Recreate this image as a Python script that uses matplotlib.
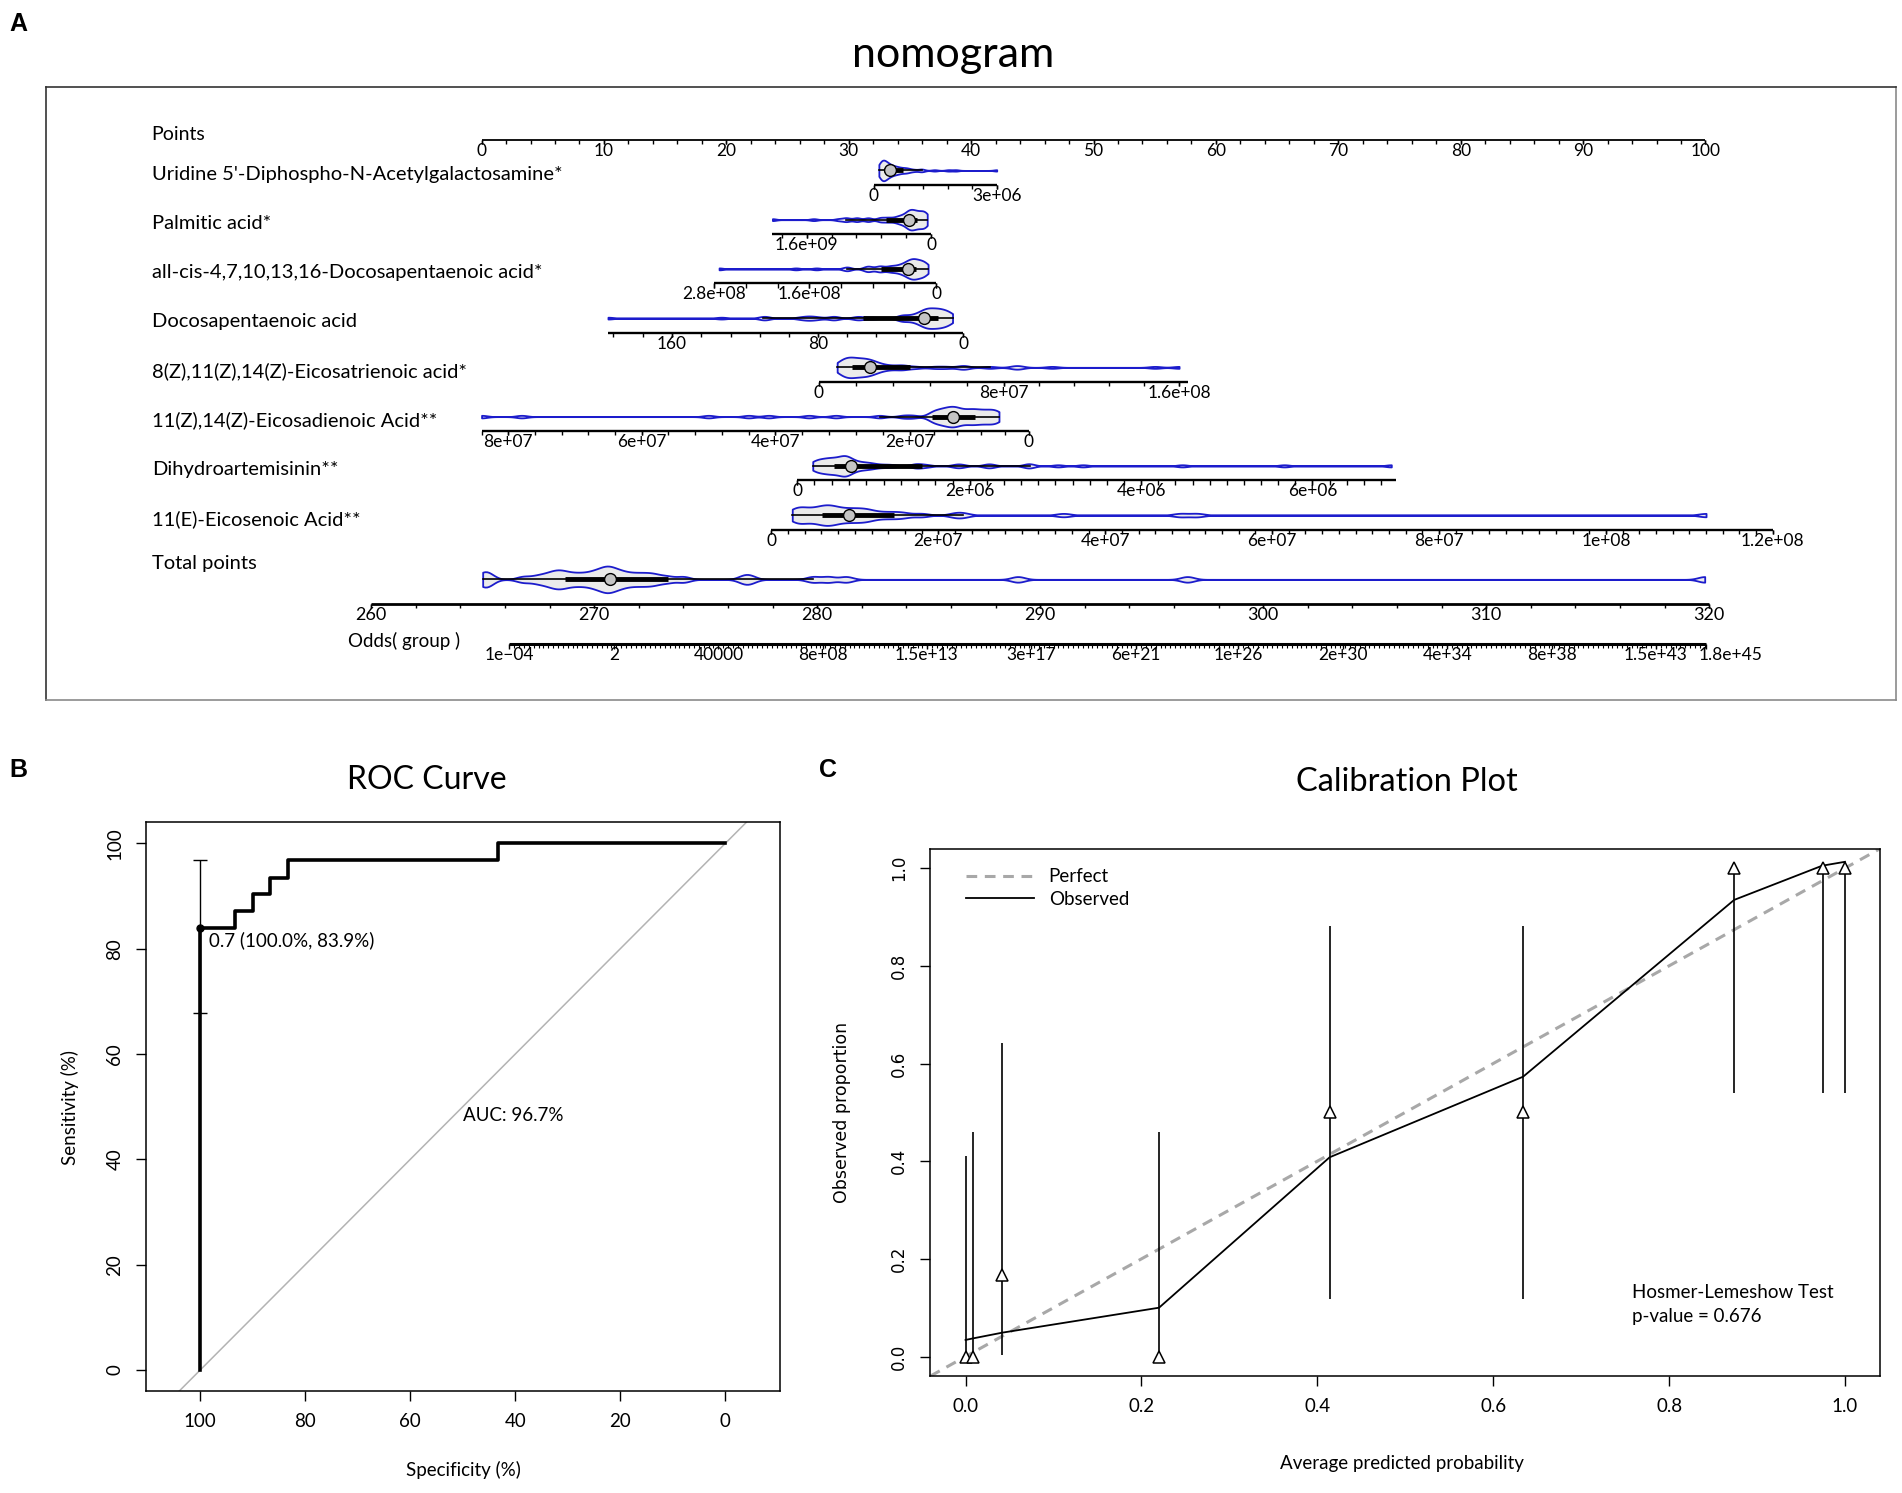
import matplotlib
matplotlib.use('Agg')
import matplotlib.pyplot as plt
import numpy as np

plt.rcParams['font.family'] = ['Lato', 'DejaVu Sans']

W, H = 1568.0, 1231.0   # layout grid of the reference (scaled)

# ---------------- nomogram data ----------------
var_labels = ["Uridine 5'-Diphospho-N-Acetylgalactosamine*", "Palmitic acid*",
              "all-cis-4,7,10,13,16-Docosapentaenoic acid*", "Docosapentaenoic acid",
              "8(Z),11(Z),14(Z)-Eicosatrienoic acid*", "11(Z),14(Z)-Eicosadienoic Acid**",
              "Dihydroartemisinin**", "11(E)-Eicosenoic Acid**"]

# sample values of each metabolite
uridine = np.array([0.12, 0.14, 0.15, 0.16, 0.17, 0.18, 0.19, 0.2, 0.21, 0.22, 0.23, 0.24, 0.25,
                    0.26, 0.27, 0.28, 0.3, 0.31, 0.33, 0.35, 0.36, 0.38, 0.4, 0.42, 0.44, 0.47,
                    0.5, 0.53, 0.55, 0.58, 0.62, 0.66, 0.7, 0.75, 0.8, 0.82, 0.9, 1.0, 1.15,
                    1.18, 1.48, 1.82, 2.0, 3.0]) * 1e6
palmitic = np.array([2.04, 1.51, 1.19, 1.1, 1.08, 0.96, 0.95, 0.82, 0.8, 0.66, 0.65, 0.58, 0.55,
                     0.5, 0.45, 0.42, 0.4, 0.38, 0.35, 0.33, 0.32, 0.3, 0.29, 0.28, 0.27, 0.27,
                     0.26, 0.25, 0.24, 0.22, 0.21, 0.2, 0.19, 0.18, 0.17, 0.15, 0.14, 0.12, 0.11,
                     0.1, 0.09, 0.08, 0.07, 0.06, 0.05]) * 1e9
allcis = np.array([2.74, 1.77, 1.51, 1.13, 1.12, 0.88, 0.86, 0.84, 0.72, 0.71, 0.7, 0.6, 0.58,
                   0.55, 0.5, 0.47, 0.45, 0.42, 0.4, 0.38, 0.36, 0.35, 0.34, 0.33, 0.32, 0.3,
                   0.29, 0.28, 0.27, 0.26, 0.25, 0.24, 0.22, 0.2, 0.19, 0.18, 0.16, 0.15, 0.14,
                   0.12, 0.1]) * 1e8
dpa = np.array([195, 133, 110, 109, 90, 86, 84, 80, 72, 71, 59, 57, 50, 35, 34, 33, 30, 28, 26,
                25, 24, 23, 22, 21, 21, 20, 20, 19, 19, 18, 17, 16, 16, 15, 14, 14, 13, 13, 12,
                11, 10, 9, 9, 8, 7, 6], dtype=float)
eic3 = np.array([0.8, 0.9, 1.0, 1.0, 1.1, 1.2, 1.2, 1.3, 1.3, 1.4, 1.4, 1.5, 1.6, 1.6, 1.7, 1.8,
                 1.8, 1.9, 2.0, 2.0, 2.1, 2.2, 2.2, 2.3, 2.4, 2.5, 2.6, 2.8, 3.0, 3.3, 3.6, 3.7,
                 4.2, 5.0, 5.5, 6.2, 6.3, 7.4, 8.5, 8.7, 10.2, 14.9, 16.0]) * 1e7
eic2 = np.array([8.4, 7.8, 5.0, 4.4, 4.1, 3.5, 3.1, 2.45, 2.1, 1.95,
                 1.66, 1.62, 1.58, 1.54, 1.5, 1.46, 1.43, 1.4, 1.37, 1.34, 1.31, 1.28,
                 1.26, 1.24, 1.21, 1.18, 1.14, 1.1, 1.06, 1.02, 0.98, 0.95, 0.92,
                 0.88, 0.84, 0.8, 0.76, 0.72, 0.68, 0.64, 0.6, 0.56, 0.53, 0.5]) * 1e7
dihydro = np.array([0.18, 0.2, 0.22, 0.25, 0.27, 0.3, 0.32, 0.34, 0.36, 0.38, 0.4, 0.42, 0.44,
                    0.46, 0.48, 0.5, 0.52, 0.54, 0.55, 0.56, 0.57, 0.58, 0.6, 0.62, 0.65, 0.68,
                    0.72, 0.76, 0.8, 0.85, 0.9, 1.0, 1.1, 1.36, 1.4, 1.5, 1.84, 1.9, 2.2, 2.25,
                    2.68, 2.7, 3.03, 3.32, 4.48, 5.67, 6.92]) * 1e6
eic1 = np.array([0.25, 0.28, 0.32, 0.35, 0.4, 0.45, 0.5, 0.55, 0.6, 0.62, 0.65, 0.7, 0.72, 0.75,
                 0.8, 0.85, 0.9, 0.95, 1.0, 1.05, 1.1, 1.15, 1.2, 1.3, 1.4, 1.5, 1.6, 1.8, 2.2,
                 2.3, 3.5, 4.9, 5.1, 11.2]) * 1e7
total_points = np.array([265.0, 265.1, 265.3, 266.8, 267.4, 267.8, 268.1, 268.3, 268.5, 268.7,
                         269.0, 269.3, 269.6, 269.9, 270.1, 270.3, 270.5, 270.6, 270.7, 270.9,
                         271.1, 271.3, 271.6, 271.9, 272.2, 272.5, 272.8, 273.3, 274.0, 276.7,
                         277.0, 279.8, 280.5, 281.3, 289.0, 296.6, 319.8])

# scale anchors: variable value -> points
anchor_vals = [[0, 3e6], [0, 1.6e9], [0, 1.6e8], [0, 80, 160], [0, 8e7, 1.6e8],
               [0, 2e7, 4e7, 6e7, 8e7], [0, 2e6, 4e6, 6e6], [0, 1.2e8]]
anchor_pts = [[32.06, 42.09], [36.73, 26.56], [37.13, 26.78], [39.37, 27.52, 15.56],
              [27.54, 42.67, 56.99], [44.70, 35.00, 24.00, 13.08, 2.18],
              [25.79, 39.89, 53.89, 67.89], [23.68, 105.5]]
axis_range = [(0, 3e6), (0, 2.04e9), (0, 2.8e8), (0, 195), (0, 1.64e8), (0, 8.4e7),
              (0, 6.98e6), (0, 1.2e8)]
minor_step = [0.6e6, 0.32e9, 0.4e8, 16, 1.6e7, 4e6, 0.2e6, 2e6]
tick_vals = [[0, 3e6], [1.6e9, 0], [2.8e8, 1.6e8, 0], [160, 80, 0], [0, 8e7, 1.6e8],
             [8e7, 6e7, 4e7, 2e7, 0], [0, 2e6, 4e6, 6e6],
             [0, 2e7, 4e7, 6e7, 8e7, 1e8, 1.2e8]]
tick_text = [['0', '3e+06'], ['1.6e+09', '0'], ['2.8e+08', '1.6e+08', '0'], ['160', '80', '0'],
             ['0', '8e+07', '1.6e+08'], ['8e+07', '6e+07', '4e+07', '2e+07', '0'],
             ['0', '2e+06', '4e+06', '6e+06'],
             ['0', '2e+07', '4e+07', '6e+07', '8e+07', '1e+08', '1.2e+08']]
samples = [uridine, palmitic, allcis, dpa, eic3, eic2, dihydro, eic1]
kde_bw = [0.25, 0.3, 0.35, 0.45, 0.5, 0.45, 0.45, 0.6]

tp_anchor = [260, 320]
tp_anchor_pts = [-9.02, 100.30]
odds_vals = [1e-4, 2, 4e4, 8e8, 1.5e13, 3e17, 6e21, 1e26, 2e30, 4e34, 8e38, 1.5e43, 1.8e45]
odds_text = ['1e\u221204', '2', '40000', '8e+08', '1.5e+13', '3e+17', '6e+21', '1e+26',
             '2e+30', '4e+34', '8e+38', '1.5e+43', '1.8e+45']
log_odds_anchor = [-4, 45.255]
log_odds_tp = [266.2, 319.86]

# ---------------- ROC data ----------------
roc_spec = [100, 100, 93.3, 93.3, 90.0, 90.0, 86.7, 86.7, 83.3, 83.3, 43.3, 43.3, 0]
roc_sens = [0, 83.9, 83.9, 87.1, 87.1, 90.3, 90.3, 93.5, 93.5, 96.8, 96.8, 100, 100]
best_spec, best_sens = 100.0, 83.9
best_ci = (67.7, 96.8)

# ---------------- calibration data ----------------
cal_line_x = [0.0, 0.008, 0.042, 0.22, 0.414, 0.634, 0.874, 0.974, 1.0]
cal_line_y = [0.034, 0.037, 0.049, 0.10, 0.408, 0.573, 0.935, 1.005, 1.013]
bin_x = [0.001, 0.009, 0.042, 0.22, 0.414, 0.634, 0.874, 0.975, 1.0]
bin_y = [0.0, 0.0, 0.167, 0.0, 0.5, 0.5, 1.0, 1.0, 1.0]
bin_lo = [0.0, 0.0, 0.004, 0.0, 0.118, 0.118, 0.54, 0.54, 0.54]
bin_hi = [0.41, 0.46, 0.641, 0.46, 0.882, 0.882, 1.0, 1.0, 1.0]


def to_points(v, vals, pts):
    vals = np.asarray(vals, float)
    pts = np.asarray(pts, float)
    v = np.atleast_1d(np.asarray(v, float))
    out = np.interp(v, vals, pts)
    lo = v < vals[0]
    hi = v > vals[-1]
    out[lo] = pts[0] + (v[lo] - vals[0]) * (pts[1] - pts[0]) / (vals[1] - vals[0])
    out[hi] = pts[-1] + (v[hi] - vals[-1]) * (pts[-1] - pts[-2]) / (vals[-1] - vals[-2])
    return out


BLUE = '#1c1ccc'


def draw_violin(ax, x, y, width, bw):
    x = np.asarray(x, float)
    parts = ax.violinplot([x], positions=[y], orientation='horizontal', widths=width,
                          showextrema=False, bw_method=bw / np.std(x, ddof=1), points=600)
    for b in parts['bodies']:
        b.set_facecolor('#ebebeb')
        b.set_edgecolor(BLUE)
        b.set_linewidth(1.3)
        b.set_alpha(1)
    q1, med, q3 = np.percentile(x, [25, 50, 75])
    iqr = q3 - q1
    lo = x[x >= q1 - 1.5 * iqr].min()
    hi = x[x <= q3 + 1.5 * iqr].max()
    ax.plot([lo, hi], [y, y], color='black', lw=1.2, zorder=3)
    ax.plot([q1, q3], [y, y], color='black', lw=3.5, solid_capstyle='butt', zorder=3)
    ax.plot([med], [y], 'o', ms=8.5, mfc='#c4c4c4', mec='black', mew=1, zorder=4)


def draw_scale(ax, y, p_lo, p_hi, minor_p, major_p, labels, fs=12.5, lw=1.7, tl=3.5):
    ax.plot([p_lo, p_hi], [y, y], color='black', lw=lw, solid_capstyle='butt')
    ax.vlines(minor_p, y, y + tl, color='black', lw=1.0)
    ax.vlines(major_p, y, y + tl, color='black', lw=1.0)
    for p, s in zip(major_p, labels):
        ax.text(p, y + 2.5, s, ha='center', va='top', fontsize=fs)


fig = plt.figure(figsize=(19.02, 14.93), dpi=100)


def fx(x):
    return x / W


def fy(y):
    return 1 - y / H


# ================= A: nomogram =================
ax = fig.add_axes([fx(38), fy(577), (1563 - 38) / W, (577 - 72) / H])
ax.set_xlim((38 - 397) / 10.09, (1563 - 397) / 10.09)
ax.set_ylim(577, 72)
ax.set_xticks([])
ax.set_yticks([])
for s in ['top', 'left']:
    ax.spines[s].set_color('#333333')
for s in ['right', 'bottom']:
    ax.spines[s].set_color('#8a8a8a')
for s in ax.spines.values():
    s.set_linewidth(1.2)

label_x = (125 - 397) / 10.09
label_fs = 14.5

# Points scale
ax.text(label_x, 111.0, 'Points', ha='left', va='center', fontsize=label_fs - 0.5)
draw_scale(ax, 115.4, 0, 100, np.arange(0, 101, 2), np.arange(0, 101, 10),
           [str(v) for v in range(0, 101, 10)], lw=1.3)

for i in range(8):
    ly = 143.5 + 40.6 * i
    ax.text(label_x, ly, var_labels[i], ha='left', va='center', fontsize=label_fs)
    a, b = axis_range[i]
    av, ap = anchor_vals[i], anchor_pts[i]
    ends = to_points([a, b], av, ap)
    minors = to_points(np.arange(a, b + 1e-9 * max(abs(b), 1), minor_step[i]), av, ap)
    majors = to_points(tick_vals[i], av, ap)
    draw_scale(ax, ly + 9, ends[0], ends[1], minors, majors, tick_text[i])
    draw_violin(ax, to_points(samples[i], av, ap), ly - 3, 17, kde_bw[i])

# Total points
ax.text(label_x, 464.8, 'Total points', ha='left', va='center', fontsize=label_fs)
tp_ends = to_points([260, 320], tp_anchor, tp_anchor_pts)
draw_scale(ax, 498, tp_ends[0], tp_ends[1],
           to_points(np.arange(260, 321, 2), tp_anchor, tp_anchor_pts),
           to_points(np.arange(260, 321, 10), tp_anchor, tp_anchor_pts),
           [str(v) for v in range(260, 321, 10)], fs=13, lw=2.0)
draw_violin(ax, to_points(total_points, tp_anchor, tp_anchor_pts), 477.7, 22, 0.55)

# Odds
ax.text((379 - 397) / 10.09, 528.7, 'Odds( group )', ha='right', va='center', fontsize=13.5)
lo_tp = to_points(np.log10(odds_vals), log_odds_anchor, log_odds_tp)
odds_p = to_points(lo_tp, tp_anchor, tp_anchor_pts)
minor_lo = np.arange(-4, 45.26, 0.2)
minor_p = to_points(to_points(minor_lo, log_odds_anchor, log_odds_tp), tp_anchor, tp_anchor_pts)
yo = 531
ax.plot([odds_p[0], odds_p[-1]], [yo, yo], color='black', lw=2.2, solid_capstyle='butt')
ax.vlines(minor_p, yo, yo + 3, color='black', lw=0.8)
ax.vlines(odds_p, yo, yo + 4, color='black', lw=1.0)
for k, (p, s) in enumerate(zip(odds_p, odds_text)):
    if k == len(odds_p) - 1:
        ax.text(p - 0.6, yo + 2.5, s, ha='left', va='top', fontsize=12.5)
    else:
        ax.text(p, yo + 2.5, s, ha='center', va='top', fontsize=12.5)

fig.text(fx(786), fy(45), 'nomogram', ha='center', va='center', fontsize=31)

# ================= B: ROC =================
axr = fig.add_axes([fx(120), fy(1147), (643 - 120) / W, (1147 - 678) / H])
axr.set_xlim(110.4, -10.4)
axr.set_ylim(-4, 104)
axr.axline((100, 0), (0, 100), color='#b3b3b3', lw=1.1)
axr.plot(roc_spec, roc_sens, color='black', lw=2.6)
axr.errorbar([best_spec], [best_sens],
             yerr=[[best_sens - best_ci[0]], [best_ci[1] - best_sens]],
             fmt='o', color='black', ms=5, elinewidth=1, capsize=5, capthick=1)
axr.text(98.4, 81.6, '0.7 (100.0%, 83.9%)', ha='left', va='center', fontsize=13.5)
axr.text(50, 50, 'AUC: 96.7%', ha='left', va='top', fontsize=13.5)
axr.set_xticks([100, 80, 60, 40, 20, 0])
axr.set_yticks([0, 20, 40, 60, 80, 100])
axr.tick_params(direction='out', length=7, width=1, labelsize=13.5, pad=9)
plt.setp(axr.get_yticklabels(), rotation=90, va='center')
for s in axr.spines.values():
    s.set_linewidth(1.1)
fig.text(fx(352), fy(643), 'ROC Curve', ha='center', va='center', fontsize=23)
fig.text(fx(382), fy(1212), 'Specificity (%)', ha='center', va='center', fontsize=13.5)
fig.text(fx(58), fy(913), 'Sensitivity (%)', ha='center', va='center', rotation=90,
         fontsize=13.5)

# ================= C: calibration =================
axc = fig.add_axes([fx(767), fy(1134.6), (1550 - 767) / W, (1134.6 - 699.7) / H])
axc.set_xlim(-0.04, 1.04)
axc.set_ylim(-0.04, 1.04)
axc.axline((0, 0), (1, 1), color='#a8a8a8', lw=2.2, ls=(0, (3.5, 2.5)), label='Perfect')
axc.plot(cal_line_x, cal_line_y, color='black', lw=1.3, label='Observed')
axc.vlines(bin_x, bin_lo, bin_hi, color='black', lw=1.2)
axc.plot(bin_x, bin_y, '^', ms=9, mfc='white', mec='black', mew=1.1, ls='none')
axc.legend(loc='upper left', bbox_to_anchor=(0.02, 0.995), frameon=False, fontsize=13.5,
           handlelength=3.6, handletextpad=0.8, labelspacing=0.3)
axc.text(0.758, 0.132, 'Hosmer-Lemeshow Test', ha='left', va='center', fontsize=13.5)
axc.text(0.758, 0.082, 'p-value = 0.676', ha='left', va='center', fontsize=13.5)
axc.set_xticks(np.arange(0, 1.01, 0.2))
axc.set_yticks(np.arange(0, 1.01, 0.2))
axc.set_xticklabels(['0.0', '0.2', '0.4', '0.6', '0.8', '1.0'])
axc.set_yticklabels(['0.0', '0.2', '0.4', '0.6', '0.8', '1.0'], family='DejaVu Sans',
                    fontsize=12)
axc.tick_params(direction='out', length=7, width=1, labelsize=13.5, pad=9)
plt.setp(axc.get_yticklabels(), rotation=90, va='center', fontsize=12)
for s in axc.spines.values():
    s.set_linewidth(1.1)
fig.text(fx(1160), fy(645), 'Calibration Plot', ha='center', va='center', fontsize=23.5)
fig.text(fx(1156), fy(1207), 'Average predicted probability', ha='center', va='center',
         fontsize=13.5)
fig.text(fx(694), fy(917), 'Observed proportion', ha='center', va='center', rotation=90,
         fontsize=12.5, family='DejaVu Sans')

# panel letters
for t, (x, y) in zip(['A', 'B', 'C'], [(15, 20), (15, 635), (683, 635)]):
    fig.text(fx(x), fy(y), t, ha='center', va='center', fontsize=18, fontweight='bold',
             family='Liberation Sans')

fig.savefig('out.png', dpi=100)
